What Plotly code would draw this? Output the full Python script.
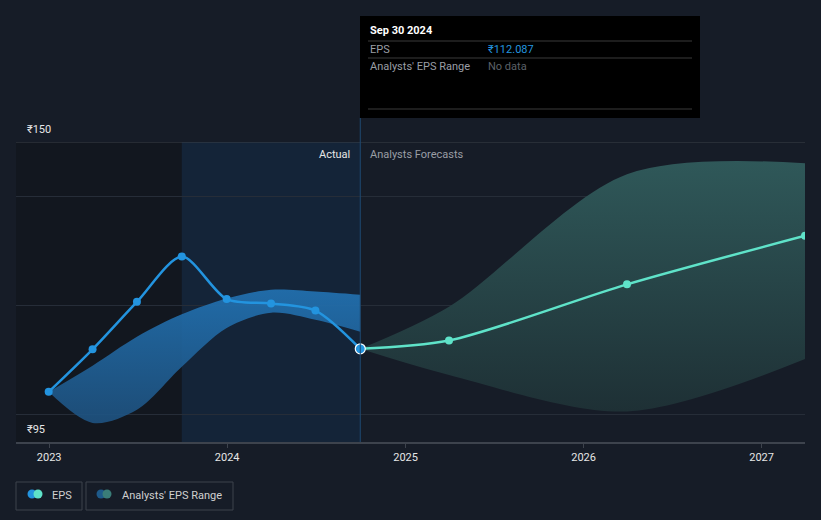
"""EPS history and analyst forecast chart (dark theme)."""

import plotly.graph_objects as go

FONT = dict(family="Roboto, 'Open Sans', sans-serif", color="#e6e6e6", size=11)
BG = "#161c27"
BLUE = "#2394df"
TEAL = "#5fe3c9"
GRID = "#262d38"
AXIS = "#3d434d"

# ── data ───────────────────────────────────────────────────────────
hist_dates = ["2022-12-31", "2023-03-31", "2023-06-30", "2023-09-30",
              "2023-12-31", "2024-03-31", "2024-06-30", "2024-09-30"]
eps_hist = [104.2, 112.0, 120.7, 129.0, 121.2, 120.4, 119.1, 112.087]
hist_range_low = [104.2, 98.5, 100.9, 108.8, 115.9, 118.7, 117.4, 115.2]
hist_range_high = [104.2, 109.0, 114.3, 118.4, 121.3, 122.9, 122.6, 122.0]

fc_dates = ["2024-09-30", "2025-03-31", "2026-03-31", "2027-03-31"]
eps_fc = [112.087, 113.6, 123.9, 132.8]
fc_range_low = [112.087, 107.3, 100.6, 110.2]
fc_range_high = [112.087, 119.8, 144.1, 146.1]

x_start, x_end = "2022-10-25", "2027-03-31"
dark_until = "2023-09-30"
actual_until = "2024-09-30"
y_min, y_max = 95, 150
grid_vals = [100, 120, 140]
year_ticks = ["2023-01-01", "2024-01-01", "2025-01-01", "2026-01-01", "2027-01-01"]
year_labels = ["2023", "2024", "2025", "2026", "2027"]

W, H = 821, 520
ML, MR, MT, MB = 16, 16, 142, 78


def px(x):
    return (x - ML) / (W - ML - MR)


def py(y):
    return (H - MB - y) / (H - MT - MB)


def label(text, x, y, color, xanchor="left", xref="paper", xshift=0, size=11):
    return dict(text=text, x=x, y=y, xref=xref, yref="paper", xanchor=xanchor,
                yanchor="middle", xshift=xshift, showarrow=False,
                font=dict(size=size, color=color))


fig = go.Figure()

# historical range band
fig.add_trace(go.Scatter(
    x=hist_dates, y=hist_range_low, mode="lines",
    line=dict(width=0, shape="spline", smoothing=0.9), hoverinfo="skip",
))
fig.add_trace(go.Scatter(
    x=hist_dates, y=hist_range_high, mode="lines",
    line=dict(width=0, shape="spline", smoothing=0.9), hoverinfo="skip",
    fill="tonexty",
    fillgradient=dict(type="vertical",
                      colorscale=[[0, "rgba(30,82,128,0.9)"], [1, "rgba(34,115,180,0.9)"]]),
))

# forecast range band
fig.add_trace(go.Scatter(
    x=fc_dates, y=fc_range_low, mode="lines",
    line=dict(width=0, shape="spline", smoothing=0.9), hoverinfo="skip",
))
fig.add_trace(go.Scatter(
    x=fc_dates, y=fc_range_high, mode="lines",
    line=dict(width=0, shape="spline", smoothing=0.9), hoverinfo="skip",
    fill="tonexty",
    fillgradient=dict(type="vertical",
                      colorscale=[[0, "#1e3035"], [1, "#2f5859"]]),
))

# EPS lines
fig.add_trace(go.Scatter(
    x=fc_dates, y=eps_fc, mode="lines+markers",
    line=dict(color=TEAL, width=2.5, shape="spline", smoothing=0.8),
    marker=dict(size=8, color=TEAL),
))
fig.add_trace(go.Scatter(
    x=hist_dates, y=eps_hist, mode="lines+markers",
    line=dict(color=BLUE, width=2.5, shape="spline", smoothing=0.8),
    marker=dict(size=8, color=BLUE),
))
fig.add_trace(go.Scatter(
    x=hist_dates[-1:], y=eps_hist[-1:], mode="markers",
    marker=dict(size=10, color=BLUE, line=dict(width=1.2, color="white")),
))

shapes = [
    # background regions
    dict(type="rect", xref="x", yref="paper", x0=x_start, x1=dark_until, y0=0, y1=1,
         fillcolor="#12171f", line_width=0, layer="below"),
    dict(type="rect", xref="x", yref="paper", x0=dark_until, x1=actual_until, y0=0, y1=1,
         fillcolor="#142438", line_width=0, layer="below"),
    # top reference line at ₹150
    dict(type="line", xref="paper", yref="y", x0=0, x1=1, y0=y_max, y1=y_max,
         line=dict(color="#3a4049", width=1)),
    dict(type="line", xref="x", yref="paper", x0=actual_until, x1=actual_until,
         y0=0, y1=py(118), line=dict(color="#1f4a70", width=1)),
    # tooltip box
    dict(type="rect", xref="paper", yref="paper", x0=px(360), x1=px(700),
         y0=py(118), y1=py(16), fillcolor="black", line_width=0),
]
for yy in (41, 58, 109):
    shapes.append(dict(type="line", xref="paper", yref="paper", x0=px(368), x1=px(692),
                       y0=py(yy), y1=py(yy), line=dict(color="#3a3a3a", width=1)))

# legend boxes
for x0, x1 in ((16, 82), (86, 233)):
    shapes.append(dict(type="rect", xref="paper", yref="paper", x0=px(x0), x1=px(x1),
                       y0=py(510), y1=py(482), line=dict(color=AXIS, width=1),
                       fillcolor="rgba(0,0,0,0)"))
for cx, col in ((32, BLUE), (38, TEAL), (101, "#1e5a8a"), (107, "#3a7d78")):
    shapes.append(dict(type="circle", xref="paper", yref="paper",
                       x0=px(cx - 4.5), x1=px(cx + 4.5), y0=py(498.5), y1=py(489.5),
                       fillcolor=col, line_width=0))

annotations = [
    dict(text="₹150", x=px(25), y=y_max, xref="paper", yref="y", xanchor="left",
         yanchor="bottom", yshift=4, showarrow=False, font=dict(size=11, color="#e6e6e6")),
    dict(text="₹95", x=px(25), y=y_min, xref="paper", yref="y", xanchor="left",
         yanchor="bottom", yshift=4, showarrow=False, font=dict(size=11, color="#e6e6e6")),
    label("Actual", actual_until, py(154), "#e6e6e6", xanchor="right", xref="x", xshift=-8),
    label("Analysts Forecasts", actual_until, py(154), "#9a9ea5", xref="x", xshift=8),
    label("<b>Sep 30 2024</b>", px(368), py(31), "white"),
    label("EPS", px(368), py(49.5), "#9a9ea5"),
    label("₹112.087", px(486), py(49.5), BLUE),
    label("Analysts' EPS Range", px(368), py(66.5), "#9a9ea5"),
    label("No data", px(486), py(66.5), "#5c6068"),
    label("EPS", px(50), py(495), "#d0d0d0"),
    label("Analysts' EPS Range", px(120), py(495), "#d0d0d0"),
]

fig.update_layout(
    width=W, height=H,
    paper_bgcolor=BG, plot_bgcolor=BG,
    font=FONT,
    margin=dict(l=ML, r=MR, t=MT, b=MB),
    showlegend=False,
    hovermode=False,
    shapes=shapes,
    annotations=annotations,
    xaxis=dict(
        type="date", range=[x_start, x_end],
        tickvals=year_ticks, ticktext=year_labels,
        showgrid=False, zeroline=False,
        showline=True, linecolor=AXIS, linewidth=1.5,
        ticks="outside", ticklen=4, tickcolor=AXIS,
        tickfont=dict(size=11, color="#e6e6e6"),
    ),
    yaxis=dict(
        range=[y_min, y_max], tickvals=grid_vals, showticklabels=False,
        showgrid=True, gridcolor=GRID, gridwidth=1, zeroline=False,
    ),
)

fig.write_html("out.html", config={"displayModeBar": False},
               post_script="document.body.style.margin='0';")
